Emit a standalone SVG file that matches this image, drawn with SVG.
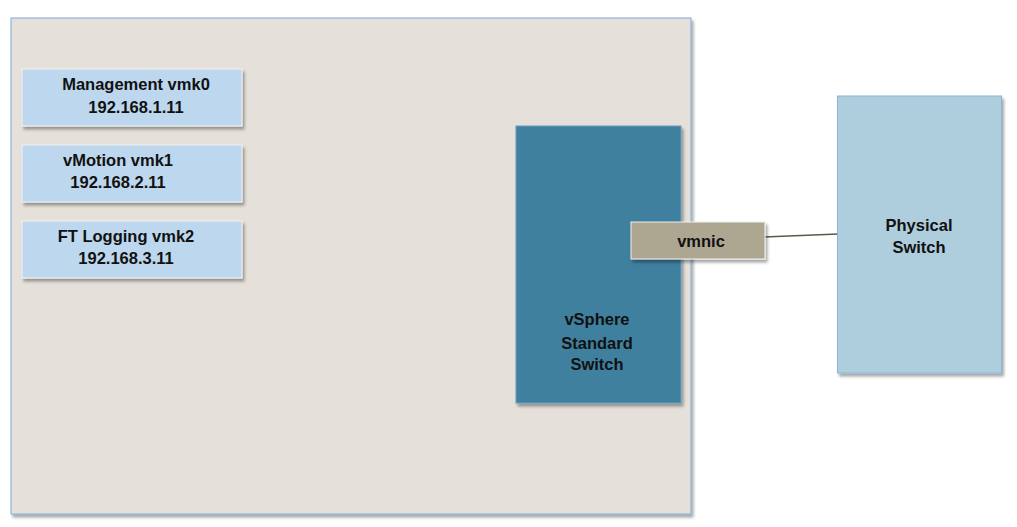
<svg xmlns="http://www.w3.org/2000/svg" width="1017" height="527" viewBox="0 0 1017 527">
<style>
  text { font-family: "Liberation Sans", Arial, sans-serif; font-weight: bold; font-size: 16.5px; fill: #111; text-anchor: middle; }
  .host { fill: #E5E1DA; stroke: #7AAADD; stroke-width: 1; }
  .vmk { fill: #BDD7EE; stroke: #F2F2F2; stroke-width: 1; }
  .vss { fill: #41809F; stroke: #6A9CC4; stroke-width: 1; }
  .nic { fill: #ADA791; stroke: #F0F0F0; stroke-width: 1; }
  .phys { fill: #AECDDD; stroke: #8AB4DC; stroke-width: 1; }
  .conn { stroke: #5A5A48; stroke-width: 1.5; fill: none; }
</style>
<defs>
  <filter id="sh" x="-10%" y="-10%" width="130%" height="130%">
    <feDropShadow dx="2" dy="3" stdDeviation="1.5" flood-color="#000" flood-opacity="0.35"/>
  </filter>
</defs>
<rect width="1017" height="527" fill="#FFFFFF"/>
<g id="host">
  <rect class="host" x="11" y="18" width="680" height="496" filter="url(#sh)"/>
</g>
<g id="vmk0">
  <rect class="vmk" x="22" y="69" width="220" height="57" filter="url(#sh)"/>
  <text x="136" y="90">Management vmk0</text>
  <text x="136" y="113">192.168.1.11</text>
</g>
<g id="vmk1">
  <rect class="vmk" x="22" y="145" width="220" height="57" filter="url(#sh)"/>
  <text x="118" y="166">vMotion vmk1</text>
  <text x="118" y="188">192.168.2.11</text>
</g>
<g id="vmk2">
  <rect class="vmk" x="22" y="221" width="220" height="57" filter="url(#sh)"/>
  <text x="126" y="242">FT Logging vmk2</text>
  <text x="126" y="264">192.168.3.11</text>
</g>
<g id="vss">
  <rect class="vss" x="516" y="126" width="165" height="277" filter="url(#sh)"/>
  <text x="597" y="325">vSphere</text>
  <text x="597" y="349">Standard</text>
  <text x="597" y="370">Switch</text>
</g>
<g id="connectors">
  <line class="conn" x1="764" y1="237" x2="838" y2="234"/>
</g>
<g id="vmnic">
  <rect class="nic" x="631" y="222" width="134" height="37" filter="url(#sh)"/>
  <text x="701" y="247">vmnic</text>
</g>
<g id="physical">
  <rect class="phys" x="837.5" y="96" width="164" height="277" filter="url(#sh)"/>
  <text x="919" y="231">Physical</text>
  <text x="919" y="253">Switch</text>
</g>
</svg>
